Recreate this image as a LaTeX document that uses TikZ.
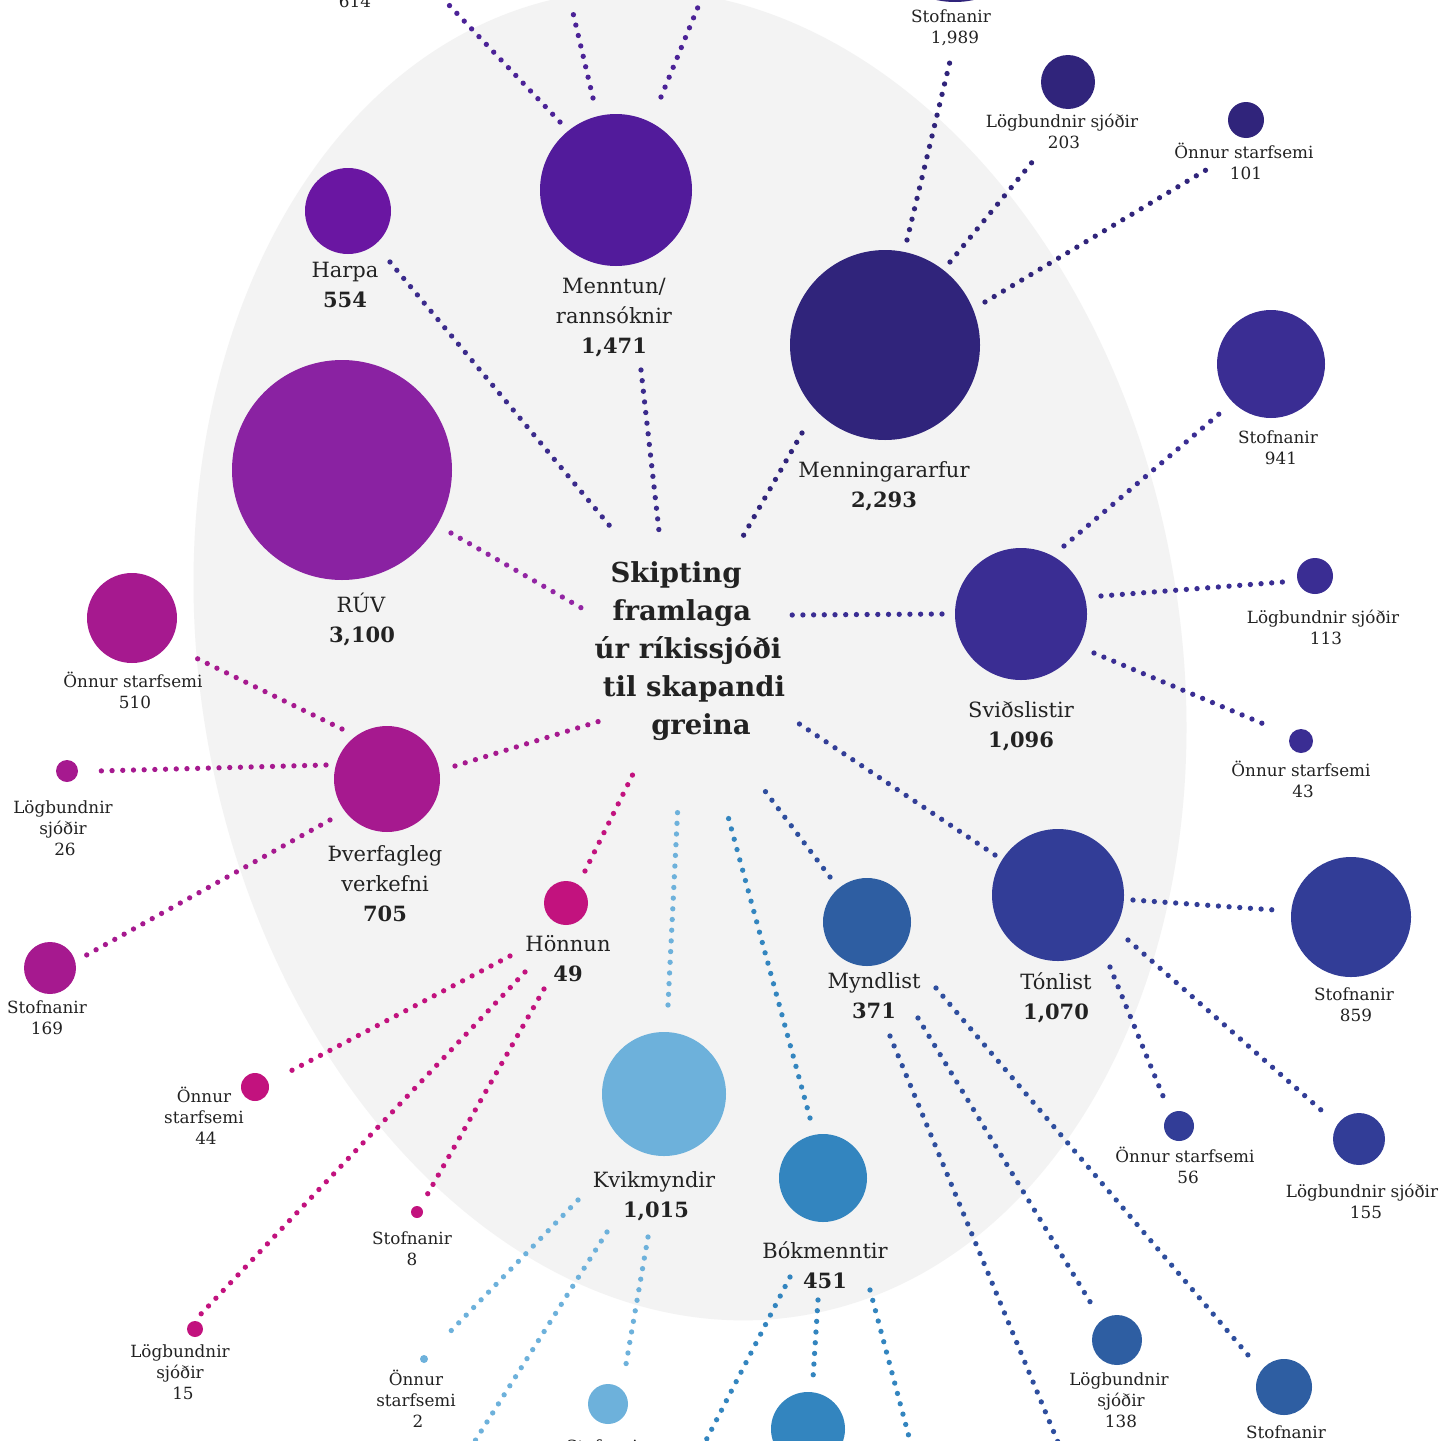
\documentclass[tikz,border=0pt]{standalone}
\usepackage{fontspec}
\setmainfont{DejaVu Serif}
\usetikzlibrary{calc}
\definecolor{ink}{HTML}{222222}
\definecolor{bgE}{HTML}{F3F3F3}
\definecolor{cMenntun}{HTML}{521B9B}
\definecolor{cHarpa}{HTML}{6A16A2}
\definecolor{cRUV}{HTML}{8A22A2}
\definecolor{cMenning}{HTML}{30247B}
\definecolor{cSvid}{HTML}{3A2D93}
\definecolor{cTon}{HTML}{323D97}
\definecolor{cMynd}{HTML}{2E5EA2}
\definecolor{cBok}{HTML}{3385BF}
\definecolor{cKvik}{HTML}{6DB1DB}
\definecolor{cHon}{HTML}{C2127E}
\definecolor{cThv}{HTML}{A6198F}
\definecolor{lMenntun}{HTML}{4B2297}
\definecolor{lIndigo}{HTML}{3B2B8C}
\definecolor{lRUV}{HTML}{9225A3}
\definecolor{lMynd}{HTML}{2E4E9E}
\begin{document}
\begin{tikzpicture}[x=1pt,y=-1pt,
  bub/.style 2 args={circle, fill=#1, draw=none, inner sep=0pt, minimum size=#2pt},
  dots/.style={line width=5.3pt, line cap=round, dash pattern=on 0pt off 10.7pt},
  sm/.style={anchor=base, inner sep=0pt, text=ink, font=\fontsize{16.8}{19}\selectfont},
  cat/.style={anchor=base, inner sep=0pt, text=ink, font=\fontsize{21}{25}\selectfont},
  catnum/.style={anchor=base, inner sep=0pt, text=ink, font=\fontsize{21}{25}\selectfont\bfseries},
  title/.style={inner sep=0pt, text=ink, align=center, font=\fontsize{27.5}{37.8}\selectfont\bfseries}
]
\useasboundingbox (0,0) rectangle (1445,1440);
\fill[white] (0,0) rectangle (1445,1440);
\clip (0,0) rectangle (1445,1440);
\fill[bgE, rotate around={10:(690,655)}] (690,655) ellipse [x radius=490, y radius=670];

% ---------- hub ----------
\node[title] (hub) at (688,651) {Skipting\kern24pt\\framlaga\kern12pt\\úr ríkissjóði\\\kern12pt til skapandi\\\kern26pt greina};

% ---------- bubbles ----------
\node[bub={cMenntun}{152}] (menntun) at (616,190) {};
\node[bub={cHarpa}{86}] (harpa) at (348,211) {};
\node[bub={cRUV}{220}] (ruv) at (342,470) {};
\node[bub={cMenning}{190}] (menning) at (885,345) {};
\node[bub={cMenning}{176}] (m1989) at (955,-86) {};
\node[bub={cMenning}{54}] (m203) at (1068,82) {};
\node[bub={cMenning}{36}] (m101) at (1246,120) {};
\node[bub={cSvid}{132}] (svid) at (1021,614) {};
\node[bub={cSvid}{108}] (s941) at (1271,364) {};
\node[bub={cSvid}{36}] (s113) at (1315,576) {};
\node[bub={cSvid}{24}] (s43) at (1301,741) {};
\node[bub={cTon}{132}] (ton) at (1058,895) {};
\node[bub={cTon}{120}] (t859) at (1351,917) {};
\node[bub={cTon}{30}] (t56) at (1179,1126) {};
\node[bub={cTon}{52}] (t155) at (1359,1139) {};
\node[bub={cMynd}{88}] (mynd) at (867,922) {};
\node[bub={cMynd}{50}] (y138) at (1117,1340) {};
\node[bub={cMynd}{56}] (ystof) at (1284,1387) {};
\node[bub={cBok}{88}] (bok) at (823,1178) {};
\node[bub={cBok}{74}] (bstof) at (808,1429) {};
\node[bub={cKvik}{124}] (kvik) at (664,1094) {};
\node[bub={cKvik}{8}] (k2) at (424,1359) {};
\node[bub={cKvik}{40}] (kstof) at (608,1404) {};
\node[bub={cHon}{44}] (hon) at (566,903) {};
\node[bub={cHon}{28}] (h44) at (255,1087) {};
\node[bub={cHon}{12}] (h8) at (417,1212) {};
\node[bub={cHon}{16}] (h15) at (195,1329) {};
\node[bub={cThv}{106}] (thv) at (387,779) {};
\node[bub={cThv}{90}] (v510) at (132,618) {};
\node[bub={cThv}{22}] (v26) at (67,771) {};
\node[bub={cThv}{52}] (v169) at (50,968) {};

% free ends of connectors leaving the picture
\coordinate (mA) at (448,4);
\coordinate (mB) at (573,13);
\coordinate (mC) at (698,7);
\coordinate (yOff) at (1062,1452);
\coordinate (bOffA) at (700,1452);
\coordinate (bOffB) at (913,1452);
\coordinate (kOff) at (468,1452);

% ---------- hub connectors ----------
\draw[dots, lIndigo] ([shift={(42,51)}]harpa.center) -- ([shift={(-74,-120)}]hub.center);
\draw[dots, lIndigo] ([shift={(25,180)}]menntun.center) -- ([shift={(-29,-120)}]hub.center);
\draw[dots, cMenning] ([shift={(-83,88)}]menning.center) -- ([shift={(54,-113)}]hub.center);
\draw[dots, lRUV] ([shift={(109,63)}]ruv.center) -- ([shift={(-103,-41)}]hub.center);
\draw[dots, cSvid] ([shift={(-79,0)}]svid.center) -- ([shift={(104,-36)}]hub.center);
\draw[dots, cTon] ([shift={(-63,-40)}]ton.center) -- ([shift={(110,72)}]hub.center);
\draw[dots, lMynd] ([shift={(-37,-45)}]mynd.center) -- ([shift={(77,140)}]hub.center);
\draw[dots, cBok] ([shift={(-13,-60)}]bok.center) -- ([shift={(38,158)}]hub.center);
\draw[dots, cKvik] ([shift={(4,-89)}]kvik.center) -- ([shift={(-10,152)}]hub.center);
\draw[dots, cHon] ([shift={(19,-32)}]hon.center) -- ([shift={(-55,123)}]hub.center);
\draw[dots, cThv] ([shift={(68,-13)}]thv.center) -- ([shift={(-88,70)}]hub.center);

% ---------- child connectors ----------
\draw[dots, lMenntun] ([shift={(-56,-68)}]menntun.center) -- (mA);
\draw[dots, lMenntun] ([shift={(-23,-92)}]menntun.center) -- (mB);
\draw[dots, lMenntun] ([shift={(45,-93)}]menntun.center) -- (mC);
\draw[dots, cMenning] ([shift={(22,-105)}]menning.center) -- ([shift={(-3,139)}]m1989.center);
\draw[dots, cMenning] ([shift={(65,-83)}]menning.center) -- ([shift={(-30,73)}]m203.center);
\draw[dots, cMenning] ([shift={(100,-43)}]menning.center) -- ([shift={(-40,50)}]m101.center);
\draw[dots, cSvid] ([shift={(43,-68)}]svid.center) -- ([shift={(-52,50)}]s941.center);
\draw[dots, cSvid] ([shift={(80,-18)}]svid.center) -- ([shift={(-32,6)}]s113.center);
\draw[dots, cSvid] ([shift={(73,39)}]svid.center) -- ([shift={(-30,-14)}]s43.center);
\draw[dots, cTon] ([shift={(75,5)}]ton.center) -- ([shift={(-76,-7)}]t859.center);
\draw[dots, cTon] ([shift={(52,72)}]ton.center) -- ([shift={(-16,-30)}]t56.center);
\draw[dots, cTon] ([shift={(70,45)}]ton.center) -- ([shift={(-38,-29)}]t155.center);
\draw[dots, lMynd] ([shift={(69,66)}]mynd.center) -- ([shift={(-36,-32)}]ystof.center);
\draw[dots, lMynd] ([shift={(51,96)}]mynd.center) -- ([shift={(-22,-30)}]y138.center);
\draw[dots, lMynd] ([shift={(23,114)}]mynd.center) -- (yOff);
\draw[dots, cBok] ([shift={(-5,122)}]bok.center) -- ([shift={(5,-51)}]bstof.center);
\draw[dots, cBok] ([shift={(-33,99)}]bok.center) -- (bOffA);
\draw[dots, cBok] ([shift={(47,112)}]bok.center) -- (bOffB);
\draw[dots, cKvik] ([shift={(-86,106)}]kvik.center) -- ([shift={(20,-21)}]k2.center);
\draw[dots, cKvik] ([shift={(-16,143)}]kvik.center) -- ([shift={(17,-34)}]kstof.center);
\draw[dots, cKvik] ([shift={(-57,138)}]kvik.center) -- (kOff);
\draw[dots, cHon] ([shift={(-56,53)}]hon.center) -- ([shift={(28,-12)}]h44.center);
\draw[dots, cHon] ([shift={(-22,86)}]hon.center) -- ([shift={(10,-17)}]h8.center);
\draw[dots, cHon] ([shift={(-41,69)}]hon.center) -- ([shift={(5,-14)}]h15.center);
\draw[dots, cThv] ([shift={(-45,-50)}]thv.center) -- ([shift={(64,40)}]v510.center);
\draw[dots, cThv] ([shift={(-61,-14)}]thv.center) -- ([shift={(30,0)}]v26.center);
\draw[dots, cThv] ([shift={(-57,41)}]thv.center) -- ([shift={(33,-11)}]v169.center);

% ---------- category labels ----------
\node[cat] (harpaA) at (345,277) {Harpa};
\node[catnum] (harpaB) at (345,307) {554};
\node[cat] (menntunA) at (614,293) {Menntun/};
\node[cat] (menntunB) at (614,323) {rannsóknir};
\node[catnum] (menntunC) at (614,353) {1,471};
\node[cat] (menningA) at (884,477) {Menningararfur};
\node[catnum] (menningB) at (884,507) {2,293};
\node[cat] (ruvA) at (361,612) {RÚV};
\node[catnum] (ruvB) at (362,642) {3,100};
\node[cat] (svidA) at (1021,717) {Sviðslistir};
\node[catnum] (svidB) at (1021,747) {1,096};
\node[cat] (tonA) at (1056,989) {Tónlist};
\node[catnum] (tonB) at (1056,1019) {1,070};
\node[cat] (myndA) at (874,988) {Myndlist};
\node[catnum] (myndB) at (874,1018) {371};
\node[cat] (bokA) at (825,1258) {Bókmenntir};
\node[catnum] (bokB) at (825,1288) {451};
\node[cat] (kvikA) at (654,1187) {Kvikmyndir};
\node[catnum] (kvikB) at (656,1217) {1,015};
\node[cat] (honA) at (568,951) {Hönnun};
\node[catnum] (honB) at (568,981) {49};
\node[cat] (thvA) at (385,861) {Þverfagleg};
\node[cat] (thvB) at (385,891) {verkefni};
\node[catnum] (thvC) at (385,921) {705};

% ---------- small labels ----------
\node[sm] (l614) at (355,8) {614};
\node[sm] (l1989a) at (951,22) {Stofnanir};
\node[sm] (l1989b) at (955,43) {1,989};
\node[sm] (l203a) at (1062,127) {Lögbundnir sjóðir};
\node[sm] (l203b) at (1064,148) {203};
\node[sm] (l101a) at (1244,158) {Önnur starfsemi};
\node[sm] (l101b) at (1246,179) {101};
\node[sm] (l941a) at (1278,443) {Stofnanir};
\node[sm] (l941b) at (1281,464) {941};
\node[sm] (l113a) at (1323,623) {Lögbundnir sjóðir};
\node[sm] (l113b) at (1326,644) {113};
\node[sm] (l43a) at (1301,776) {Önnur starfsemi};
\node[sm] (l43b) at (1303,797) {43};
\node[sm] (l859a) at (1354,1000) {Stofnanir};
\node[sm] (l859b) at (1356,1021) {859};
\node[sm] (l56a) at (1185,1162) {Önnur starfsemi};
\node[sm] (l56b) at (1188,1183) {56};
\node[sm] (l155a) at (1362,1197) {Lögbundnir sjóðir};
\node[sm] (l155b) at (1366,1218) {155};
\node[sm] (l138a) at (1119,1385) {Lögbundnir};
\node[sm] (l138b) at (1121,1406) {sjóðir};
\node[sm] (l138c) at (1121,1427) {138};
\node[sm] (lystof) at (1286,1438) {Stofnanir};
\node[sm] (l2a) at (416,1385) {Önnur};
\node[sm] (l2b) at (416,1406) {starfsemi};
\node[sm] (l2c) at (418,1427) {2};
\node[sm] (lkstof) at (606,1452) {Stofnanir};
\node[sm] (l44a) at (204,1102) {Önnur};
\node[sm] (l44b) at (204,1123) {starfsemi};
\node[sm] (l44c) at (206,1144) {44};
\node[sm] (l8a) at (412,1244) {Stofnanir};
\node[sm] (l8b) at (412,1265) {8};
\node[sm] (l15a) at (180,1357) {Lögbundnir};
\node[sm] (l15b) at (180,1378) {sjóðir};
\node[sm] (l15c) at (183,1399) {15};
\node[sm] (l510a) at (133,687) {Önnur starfsemi};
\node[sm] (l510b) at (135,708) {510};
\node[sm] (l26a) at (63,813) {Lögbundnir};
\node[sm] (l26b) at (63,834) {sjóðir};
\node[sm] (l26c) at (65,855) {26};
\node[sm] (l169a) at (47,1013) {Stofnanir};
\node[sm] (l169b) at (47,1034) {169};
\end{tikzpicture}
\end{document}
